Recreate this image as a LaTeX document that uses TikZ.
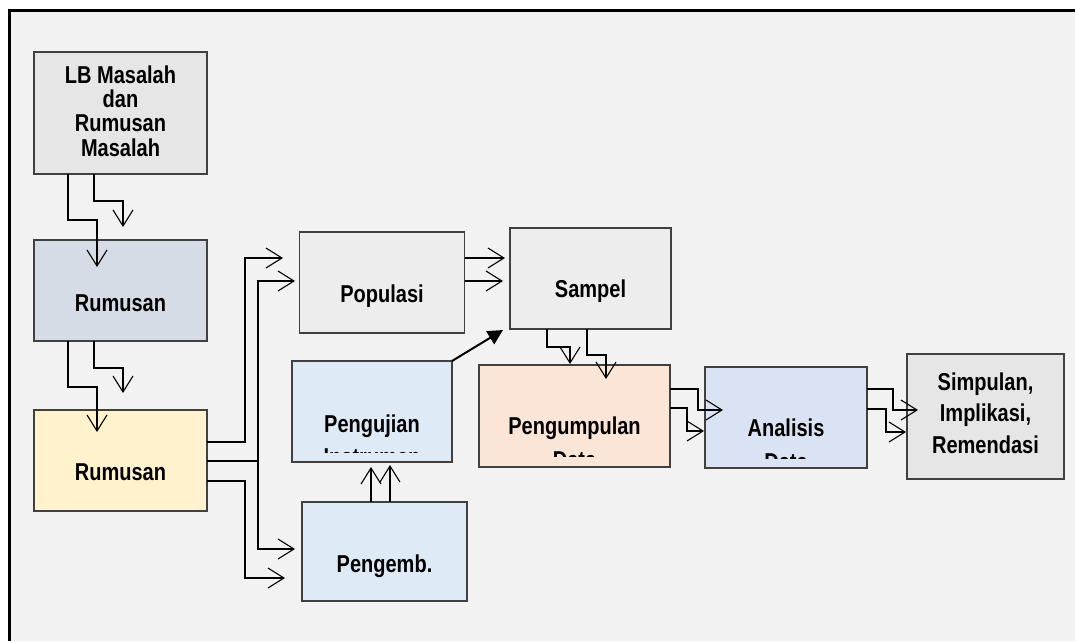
\documentclass[tikz,border=0pt]{standalone}
\usepackage{fontspec}
\newfontfamily\lblfont{Liberation Sans}[FakeStretch=0.82]
\usetikzlibrary{arrows.meta}
\definecolor{bordc}{HTML}{404040}
\definecolor{bgc}{HTML}{F2F2F2}
\definecolor{cgrayA}{HTML}{E6E6E6}
\definecolor{cgrayB}{HTML}{EDEDED}
\definecolor{cslate}{HTML}{D6DCE5}
\definecolor{cyellow}{HTML}{FFF2CC}
\definecolor{cblue}{HTML}{DEEBF7}
\definecolor{cpeach}{HTML}{FBE5D6}
\definecolor{cblueB}{HTML}{DAE3F3}
\begin{document}
\begin{tikzpicture}[x=1pt,y=-1pt,
  box/.style={draw=bordc, line width=1.4pt, inner sep=0pt, outer sep=0pt, rectangle},
  lbl/.style={font=\lblfont\bfseries\fontsize{24.4}{#1}\selectfont, inner sep=0pt, anchor=base},
  lbl/.default=24,
  conn/.style={draw=black, line width=1.1pt},
  arr/.style={conn, -{Straight Barb[length=16pt,width=20pt]}},
  bigarr/.style={draw=black, line width=2pt, -{Triangle[length=15pt,width=15pt]}}]
\useasboundingbox (0,0) rectangle (1075,641);
\fill[white] (0,0) rectangle (1075,641);
\fill[bgc] (9.5,10.5) rectangle (1075,641);
\draw[line width=2.4pt] (9.5,641) -- (9.5,10.5) -- (1075,10.5);

% boxes
\node[box, fill=cgrayA, minimum width=173pt, minimum height=122pt] (lb) at (120.5,113) {};
\node[box, fill=cslate, minimum width=173pt, minimum height=101pt] (r1) at (120.5,290.5) {};
\node[box, fill=cyellow, minimum width=173pt, minimum height=101pt] (r2) at (120.5,460.5) {};
\node[box, fill=cgrayB, minimum width=165pt, minimum height=101pt] (pop) at (382,282.5) {};
\node[box, fill=cgrayB, minimum width=161pt, minimum height=101pt] (samp) at (590.5,278.5) {};
\node[box, fill=cblue, minimum width=160pt, minimum height=101pt] (uji) at (372,411.5) {};
\node[box, fill=cblue, minimum width=165pt, minimum height=99pt] (emb) at (384.5,551.5) {};
\node[box, fill=cpeach, minimum width=191pt, minimum height=102pt] (kumpul) at (574.5,416) {};
\node[box, fill=cblueB, minimum width=162pt, minimum height=101pt] (anal) at (786,417.5) {};
\node[box, fill=cgrayA, minimum width=157pt, minimum height=125pt] (simp) at (985.5,416.5) {};

% texts
\node[lbl] (tlb) at (120.5,83) {\begin{tabular}[t]{@{}c@{}}LB Masalah\\dan\\Rumusan\\Masalah\end{tabular}};
\node[lbl] (tr1) at (120.5,311) {Rumusan};
\node[lbl] (tr2) at (120.5,480) {Rumusan};
\node[lbl] (tpop) at (382,302) {Populasi};
\node[lbl] (tsamp) at (590.5,297) {Sampel};
\node[lbl] (temb) at (384.5,572) {Pengemb.};
\node[lbl=31.5] (tsimp) at (985.5,390) {\begin{tabular}[t]{@{}c@{}}Simpulan,\\Implikasi,\\Remendasi\end{tabular}};
\begin{scope}
  \clip (uji.north west) rectangle (uji.east |- 0,452);
  \node[lbl=33] (tuji) at (372,432) {\begin{tabular}[t]{@{}c@{}}Pengujian\\Instrumen\end{tabular}};
\end{scope}
\begin{scope}
  \clip (kumpul.north west) rectangle (kumpul.east |- 0,456);
  \node[lbl=34] (tkumpul) at (574.5,434) {\begin{tabular}[t]{@{}c@{}}Pengumpulan\\Data\end{tabular}};
\end{scope}
\begin{scope}
  \clip (anal.north west) rectangle (anal.east |- 0,458);
  \node[lbl=34] (tanal) at (786,436) {\begin{tabular}[t]{@{}c@{}}Analisis\\Data\end{tabular}};
\end{scope}

% connectors
\draw[arr] (lb.south -| 68,0) -- (68,220) -- (97,220) -- (97,267);
\draw[arr] (lb.south -| 94,0) -- (94,201) -- (123,201) -- (123,227);
\draw[arr] (r1.south -| 68,0) -- (68,387) -- (97,387) -- (97,432);
\draw[arr] (r1.south -| 94,0) -- (94,368) -- (123,368) -- (123,393);

\draw[arr] (r2.east |- 0,442) -- (245,442) -- (245,258) -- (283,258);
\draw[conn] (r2.east |- 0,461) -- (257,461);
\coordinate (split) at (258,461);
\draw[arr] (split) -- (258,281) -- (295,281);
\draw[arr] (split) -- (258,549) -- (295,549);
\draw[arr] (r2.east |- 0,481) -- (245,481) -- (245,578) -- (285,578);

\draw[arr] (pop.east |- 0,258) -- (505,258);
\draw[arr] (pop.east |- 0,281) -- (503,281);

\draw[bigarr] (uji.north east) -- (503,330);

\draw[arr] (samp.south -| 547,0) -- (547,347) -- (570,347) -- (570,364);
\draw[arr] (samp.south -| 587,0) -- (587,355) -- (606,355) -- (606,379);

\draw[arr] (emb.north -| 371,0) -- (371,467);
\draw[arr] (emb.north -| 390,0) -- (390,465);

\draw[arr] (kumpul.east |- 0,389) -- (698,389) -- (698,410) -- (723,410);
\draw[arr] (kumpul.east |- 0,408) -- (687,408) -- (687,431) -- (704,431);

\draw[arr] (anal.east |- 0,389) -- (893,389) -- (893,410) -- (918,410);
\draw[arr] (anal.east |- 0,409) -- (886,409) -- (886,432) -- (906,432);
\end{tikzpicture}
\end{document}
